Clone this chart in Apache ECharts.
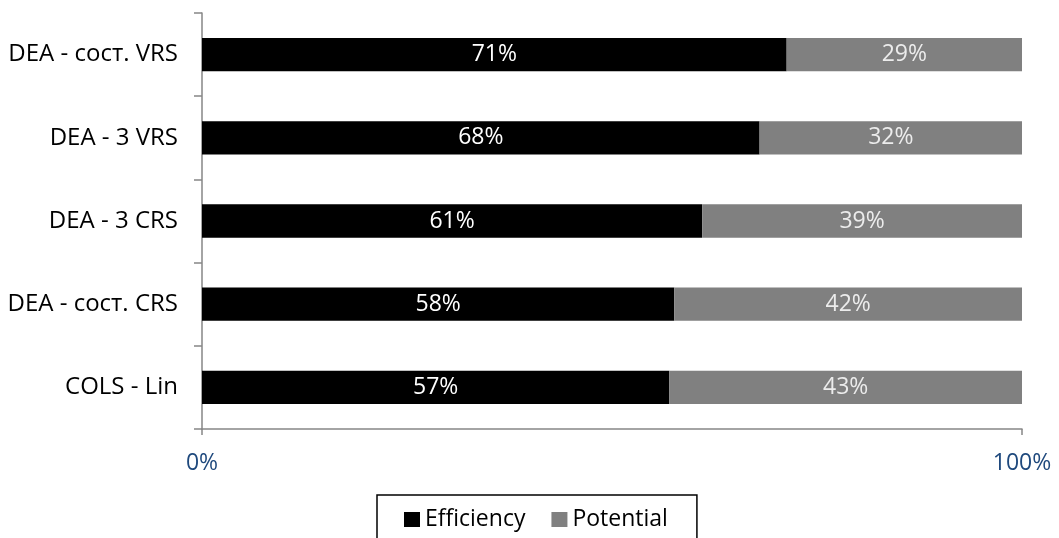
<!DOCTYPE html>
<html>
<head>
<meta charset="utf-8">
<script src="https://cdn.jsdelivr.net/npm/echarts@6/dist/echarts.min.js"></script>
<style>
  html, body { margin: 0; padding: 0; background: #fff; }
  #chart { width: 1059px; height: 538px; }
</style>
</head>
<body>
<div id="chart"></div>
<script>
// categories from bottom to top (category axis draws first item at the bottom)
const categories = ['COLS - Lin', 'DEA - сост. CRS', 'DEA - 3 CRS', 'DEA - 3 VRS', 'DEA - сост. VRS']
const efficiency = [57, 57.6, 61, 68, 71.3]
const potential = [43, 42.4, 39, 32, 28.7]
const xTicks = [0, 100]

const font = '"Open Sans", "Noto Sans", sans-serif'

const chart = echarts.init(document.getElementById('chart'))

const option = {
  animation: false,
  textStyle: { fontFamily: font },
  grid: { left: 202, right: 37, top: 13, bottom: 109, containLabel: false },
  legend: {
    data: ['Efficiency', 'Potential'],
    left: 377,
    top: 495,
    padding: [13, 29, 30, 27],
    itemGap: 26,
    itemWidth: 16,
    itemHeight: 15,
    icon: 'rect',
    borderColor: '#000',
    borderWidth: 1.5,
    textStyle: { fontFamily: font, fontSize: 23, color: '#000' }
  },
  xAxis: {
    type: 'value',
    min: xTicks[0],
    max: xTicks[1],
    interval: 100,
    axisLine: { show: true, lineStyle: { color: '#868686', width: 1.5 } },
    axisTick: { show: true, length: 6, lineStyle: { color: '#868686', width: 1.5 } },
    splitLine: { show: false },
    axisLabel: { formatter: '{value}%', color: '#1f497d', fontSize: 23, margin: 23 }
  },
  yAxis: {
    type: 'category',
    data: categories,
    axisLine: { show: true, lineStyle: { color: '#868686', width: 1.5 } },
    axisTick: { show: true, length: 8, lineStyle: { color: '#868686', width: 1.5 } },
    axisLabel: { color: '#000', fontSize: 24, margin: 24 }
  },
  series: [
    {
      name: 'Efficiency',
      type: 'bar',
      stack: 'total',
      data: efficiency,
      barWidth: '40%',
      itemStyle: { color: '#000' },
      label: {
        show: true,
        position: 'inside',
        color: '#fff',
        fontSize: 23,
        formatter: p => Math.round(p.value) + '%'
      }
    },
    {
      name: 'Potential',
      type: 'bar',
      stack: 'total',
      data: potential,
      barWidth: '40%',
      itemStyle: { color: '#808080' },
      label: {
        show: true,
        position: 'inside',
        color: '#ececec',
        fontSize: 23,
        formatter: p => Math.round(p.value) + '%'
      }
    }
  ]
}

chart.setOption(option)
</script>
</body>
</html>
